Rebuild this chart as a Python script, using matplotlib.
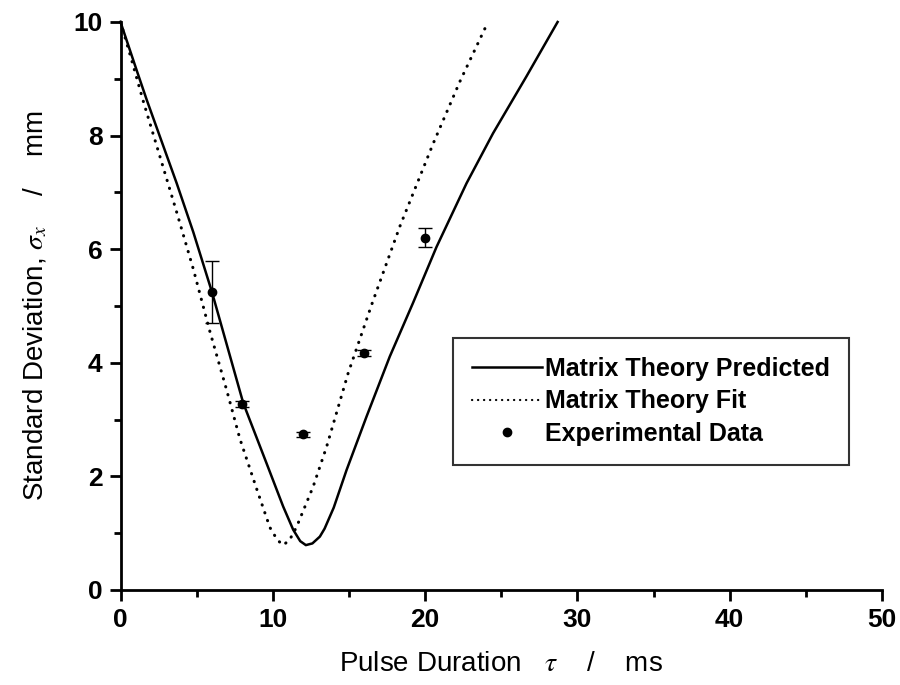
import numpy as np
import matplotlib
matplotlib.use("Agg")
import matplotlib.pyplot as plt
from matplotlib.ticker import MultipleLocator
from matplotlib.lines import Line2D

plt.rcParams['font.family'] = ['Liberation Sans', 'DejaVu Sans']
plt.rcParams['mathtext.fontset'] = 'stix'

# Matrix theory predicted curve
pred_x = [0, 1.06, 1.72, 2.59, 3.69, 4.78, 6.0, 8.06, 9.59, 10.68, 11.34, 11.8,
          12.17, 12.6, 13.09, 13.4, 14.0, 14.84, 16.15, 17.68, 19.2, 20.75,
          22.72, 24.46, 26.65, 28.7]
pred_y = [10, 9.15, 8.63, 7.98, 7.16, 6.30, 5.25, 3.29, 2.23, 1.47, 1.06, 0.86,
          0.79, 0.82, 0.94, 1.08, 1.45, 2.11, 3.05, 4.11, 5.05, 6.04,
          7.16, 8.04, 9.04, 10.0]

# Matrix theory fit curve
fit_x = [0, 0.73, 1.5, 2.59, 3.69, 4.78, 5.87, 6.97, 7.84, 8.94, 9.81, 10.3,
         10.68, 11.1, 11.56, 12.65, 13.53, 14.95, 16.5, 18.34, 20.53, 22.28, 24.13]
fit_y = [10, 9.33, 8.6, 7.63, 6.65, 5.65, 4.55, 3.52, 2.66, 1.78, 1.1, 0.88,
         0.79, 0.88, 1.11, 1.82, 2.52, 3.82, 5.03, 6.40, 7.86, 8.95, 10.0]

# Experimental data
exp_x = [6, 8, 12, 16, 20]
exp_y = [5.25, 3.27, 2.74, 4.17, 6.20]
exp_err = [0.55, 0.05, 0.04, 0.05, 0.17]

fig = plt.figure(figsize=(9, 6.85), dpi=100)
ax = fig.add_axes([0.1339, 0.1387, 0.8461, 0.8292])

ax.plot(pred_x, pred_y, color='black', lw=1.8, clip_on=False)
ax.plot(fit_x, fit_y, color='black', lw=2.2, linestyle=(0, (0.1, 2.6)),
        dash_capstyle='round', clip_on=False)
ax.errorbar(exp_x, exp_y, yerr=exp_err, fmt='o', color='black', ms=6,
            elinewidth=1, capsize=5, capthick=1)

ax.set_xlim(0, 50)
ax.set_ylim(0, 10)
ax.xaxis.set_major_locator(MultipleLocator(10))
ax.xaxis.set_minor_locator(MultipleLocator(5))
ax.yaxis.set_major_locator(MultipleLocator(2))
ax.yaxis.set_minor_locator(MultipleLocator(1))

for s in ['top', 'right']:
    ax.spines[s].set_visible(False)
for s in ['left', 'bottom']:
    ax.spines[s].set_linewidth(2)
ax.tick_params(which='major', direction='out', length=8, width=2,
               labelsize=19, pad=5)
ax.tick_params(which='minor', direction='out', length=5, width=2)
for lab in ax.get_xticklabels() + ax.get_yticklabels():
    lab.set_fontweight('bold')

ax.set_xlabel(r'Pulse Duration   $\tau$    /    ms', fontsize=20, labelpad=14)
ax.set_ylabel(r'Standard Deviation, $\sigma_x$    /    mm', fontsize=20, labelpad=17)

handles = [
    Line2D([], [], color='black', lw=1.8),
    Line2D([], [], color='black', lw=1.6, linestyle=(0, (0.1, 2.6)),
           dash_capstyle='round'),
    Line2D([], [], color='black', marker='o', ms=6, linestyle='none'),
]
labels = ['Matrix Theory Predicted', 'Matrix Theory Fit', 'Experimental Data']
leg = ax.legend(handles, labels, loc='upper left', bbox_to_anchor=(0.4366, 0.4437),
                fontsize=18, frameon=True, fancybox=False, edgecolor='black',
                handlelength=2.8, handletextpad=0.15, labelspacing=0.35,
                borderpad=0.75, borderaxespad=0)
leg.get_frame().set_linewidth(1.5)
for t in leg.get_texts():
    t.set_fontweight('bold')

fig.savefig('out.png', dpi=100)
